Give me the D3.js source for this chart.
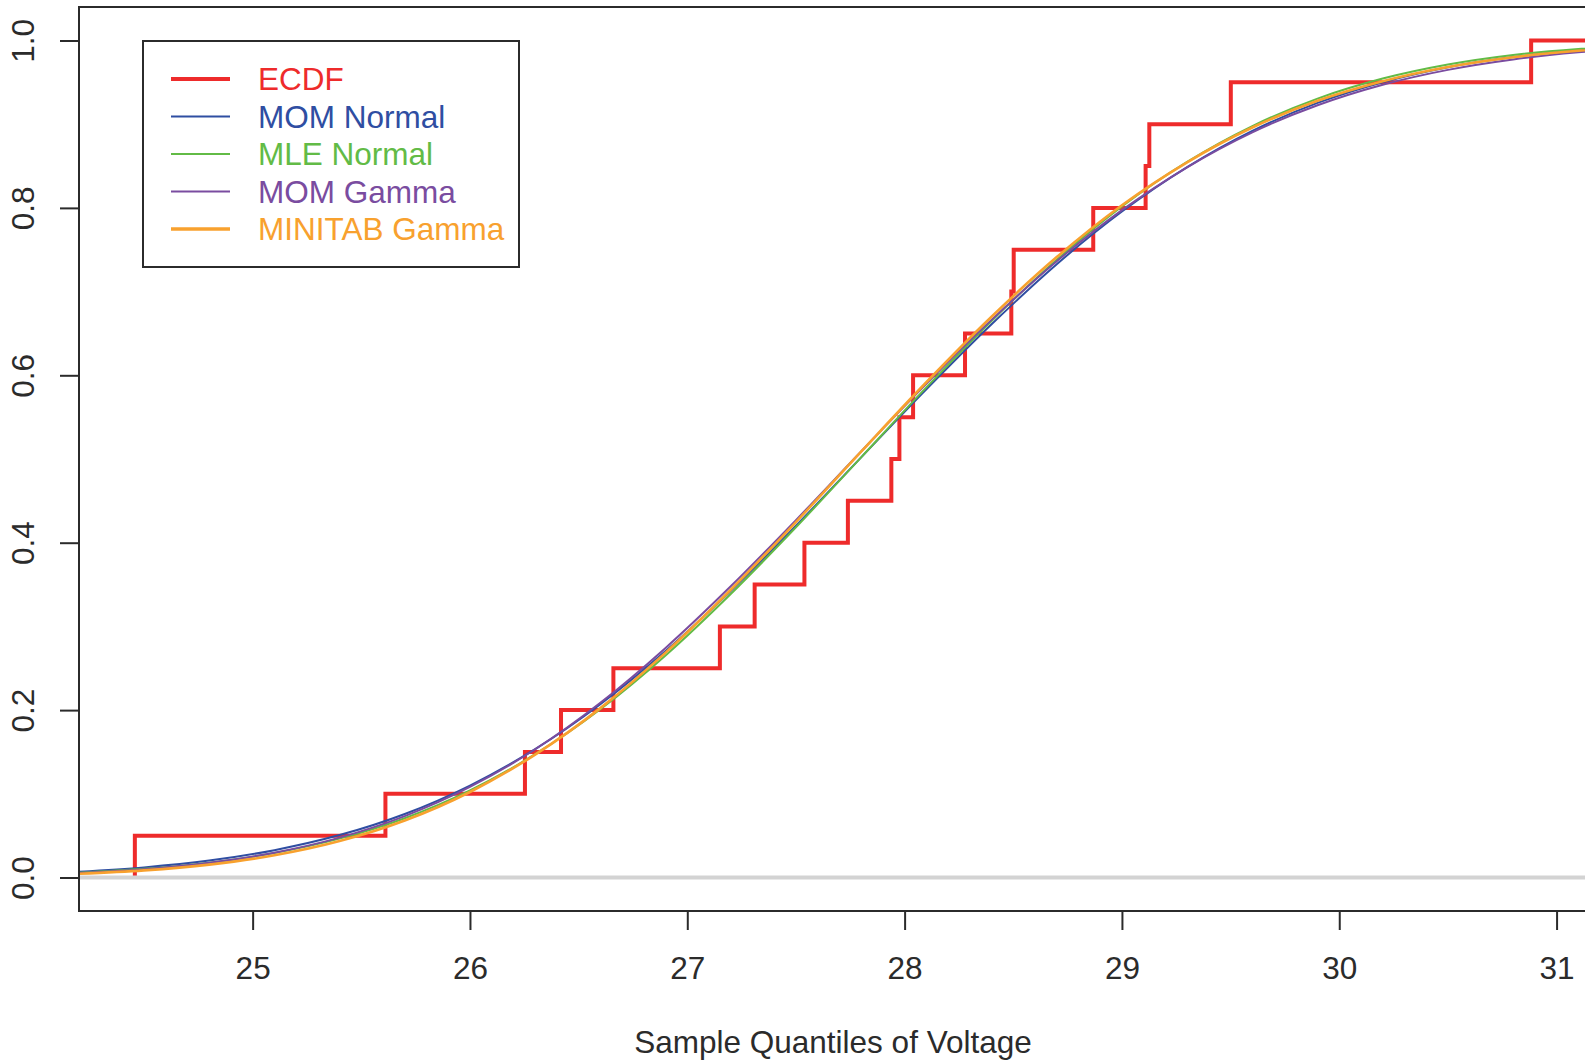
<!DOCTYPE html>
<html>
<head>
<meta charset="utf-8">
<script src="https://cdn.jsdelivr.net/npm/d3@7"></script>
<style>
  body { margin: 0; background: #fff; }
  svg { display: block; }
  text { font-family: "Liberation Sans", Arial, Helvetica, sans-serif; }
</style>
</head>
<body>
<svg id="chart" width="1585" height="1063"></svg>
<script>
// Sorted voltage sample (n = 20) and ECDF heights
const voltage = [24.458, 25.611, 26.253, 26.419, 26.660, 27.150, 27.310, 27.539, 27.739, 27.939,
                 27.976, 28.039, 28.278, 28.491, 28.502, 28.868, 29.109, 29.126, 29.501, 30.883];
const ecdfLevels = [0.05, 0.10, 0.15, 0.20, 0.25, 0.30, 0.35, 0.40, 0.45, 0.50,
                    0.55, 0.60, 0.65, 0.70, 0.75, 0.80, 0.85, 0.90, 0.95, 1.00];

// Fitted CDF curves evaluated on a common voltage grid
const gridX = [24.2, 24.5, 24.8, 25.1, 25.4, 25.7, 26.0, 26.3, 26.6, 26.9, 27.2, 27.5, 27.8,
               28.1, 28.4, 28.7, 29.0, 29.3, 29.6, 29.9, 30.2, 30.5, 30.8, 31.1, 31.4];
const momNormal = [0.0070, 0.0121, 0.0202, 0.0327, 0.0507, 0.0759, 0.1099, 0.1534, 0.2070, 0.2706,
                   0.3424, 0.4203, 0.5020, 0.5832, 0.6609, 0.7327, 0.7956, 0.8487, 0.8920, 0.9254,
                   0.9502, 0.9681, 0.9802, 0.9882, 0.9932];
const mleNormal = [0.0058, 0.0104, 0.0178, 0.0293, 0.0465, 0.0708, 0.1040, 0.1473, 0.2010, 0.2653,
                   0.3387, 0.4184, 0.5020, 0.5855, 0.6649, 0.7379, 0.8018, 0.8550, 0.8978, 0.9306,
                   0.9545, 0.9713, 0.9827, 0.9899, 0.9943];
const momGamma = [0.0054, 0.0100, 0.0177, 0.0297, 0.0477, 0.0734, 0.1082, 0.1532, 0.2087, 0.2743,
                  0.3479, 0.4270, 0.5090, 0.5898, 0.6662, 0.7363, 0.7973, 0.8485, 0.8903, 0.9226,
                  0.9471, 0.9649, 0.9773, 0.9858, 0.9913];
const minitabGamma = [0.0045, 0.0085, 0.0154, 0.0265, 0.0435, 0.0681, 0.1022, 0.1469, 0.2024, 0.2687,
                      0.3438, 0.4247, 0.5088, 0.5917, 0.6700, 0.7412, 0.8032, 0.8545, 0.8960, 0.9279,
                      0.9513, 0.9683, 0.9800, 0.9877, 0.9927];

const seriesNames = ["ECDF", "MOM Normal", "MLE Normal", "MOM Gamma", "MINITAB Gamma"];
const seriesColors = ["#EE2B2B", "#2F4EA2", "#62BB46", "#7A4CA0", "#F8A12E"];
const seriesWidths = [4, 2, 2, 2, 3.4];

const xTicks = [25, 26, 27, 28, 29, 30, 31];
const yTicks = [0, 0.2, 0.4, 0.6, 0.8, 1.0];
const yTickLabels = ["0.0", "0.2", "0.4", "0.6", "0.8", "1.0"];
const xTitle = "Sample Quantiles of Voltage";

// Plot region and scales (4% padding on each axis range)
const plot = { left: 79, top: 7, right: 1587, bottom: 911 };
const [vMin, vMax] = d3.extent(voltage);
const padX = 0.04 * (vMax - vMin);
const x = d3.scaleLinear().domain([vMin - padX, vMax + padX]).range([plot.left, plot.right]);
const y = d3.scaleLinear().domain([-0.04, 1.04]).range([plot.bottom, plot.top]);

const svg = d3.select("#chart");
const ink = "#2b2b2b";
const fontSize = "31.5px";

svg.append("defs").append("clipPath").attr("id", "plotClip")
  .append("rect")
  .attr("x", plot.left).attr("y", plot.top)
  .attr("width", plot.right - plot.left).attr("height", plot.bottom - plot.top);

const layer = svg.append("g").attr("clip-path", "url(#plotClip)");

// Empirical CDF as a step function
const ecdfPts = [[voltage[0], 0]]
  .concat(voltage.map((v, i) => [v, ecdfLevels[i]]))
  .concat([[x.domain()[1] + 1, ecdfLevels[ecdfLevels.length - 1]]]);
layer.append("path")
  .attr("d", d3.line().x(d => x(d[0])).y(d => y(d[1])).curve(d3.curveStepAfter)(ecdfPts))
  .attr("fill", "none")
  .attr("stroke", seriesColors[0])
  .attr("stroke-width", seriesWidths[0]);

// Reference line at zero
layer.append("line")
  .attr("x1", plot.left).attr("x2", plot.right)
  .attr("y1", y(0)).attr("y2", y(0))
  .attr("stroke", "#D3D3D3").attr("stroke-width", 4);

// Fitted distribution curves
const curveData = [momNormal, mleNormal, momGamma, minitabGamma];
const curveLine = d3.line().x((d, i) => x(gridX[i])).y(d => y(d)).curve(d3.curveMonotoneX);
curveData.forEach((vals, k) => {
  layer.append("path")
    .attr("d", curveLine(vals))
    .attr("fill", "none")
    .attr("stroke", seriesColors[k + 1])
    .attr("stroke-width", seriesWidths[k + 1] === 3.4 ? 2.6 : seriesWidths[k + 1])
    .attr("stroke-linejoin", "round");
});

// Frame
svg.append("rect")
  .attr("x", plot.left).attr("y", plot.top)
  .attr("width", plot.right - plot.left).attr("height", plot.bottom - plot.top)
  .attr("fill", "none").attr("stroke", ink).attr("stroke-width", 2);

// X axis
const xAxis = svg.append("g")
  .attr("transform", `translate(0,${plot.bottom})`)
  .call(d3.axisBottom(x).tickValues(xTicks).tickSize(19).tickFormat(d3.format("d")));
xAxis.select(".domain").remove();
xAxis.selectAll(".tick line").attr("stroke", ink).attr("stroke-width", 2);
xAxis.selectAll(".tick text")
  .attr("y", 68).attr("dy", null)
  .attr("fill", ink)
  .style("font-size", fontSize)
  .style("font-family", "'Liberation Sans', Arial, sans-serif");

// Y axis with rotated labels
const yAxis = svg.append("g")
  .attr("transform", `translate(${plot.left},0)`)
  .call(d3.axisLeft(y).tickValues(yTicks).tickSize(19).tickFormat((d, i) => yTickLabels[i]));
yAxis.select(".domain").remove();
yAxis.selectAll(".tick line").attr("stroke", ink).attr("stroke-width", 2);
yAxis.selectAll(".tick text")
  .attr("x", null).attr("dy", null)
  .attr("text-anchor", "middle")
  .attr("transform", "translate(-45,0) rotate(-90)")
  .attr("fill", ink)
  .style("font-size", fontSize)
  .style("font-family", "'Liberation Sans', Arial, sans-serif");

// Axis title
svg.append("text")
  .attr("x", 833).attr("y", 1053)
  .attr("text-anchor", "middle")
  .attr("fill", ink)
  .style("font-size", fontSize)
  .text(xTitle);

// Legend
const legend = svg.append("g");
legend.append("rect")
  .attr("x", 143).attr("y", 41).attr("width", 376).attr("height", 226)
  .attr("fill", "#fff").attr("stroke", ink).attr("stroke-width", 2);
seriesNames.forEach((name, i) => {
  const cy = 79 + i * 37.5;
  legend.append("line")
    .attr("x1", 171).attr("x2", 230).attr("y1", cy).attr("y2", cy)
    .attr("stroke", seriesColors[i]).attr("stroke-width", seriesWidths[i]);
  legend.append("text")
    .attr("x", 258).attr("y", cy).attr("dy", "0.36em")
    .attr("fill", seriesColors[i])
    .style("font-size", fontSize)
    .text(name);
});
</script>
</body>
</html>
